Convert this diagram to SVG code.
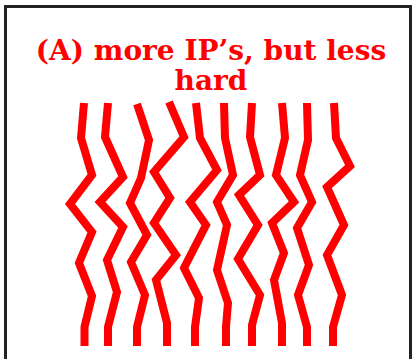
<svg xmlns="http://www.w3.org/2000/svg" width="412" height="359" viewBox="0 0 412 359">
<style>
.t{font-family:"DejaVu Serif","Liberation Serif",serif;font-weight:bold;font-size:28px;fill:#ff0000;text-anchor:middle}
.w{fill:none;stroke:#ff0000;stroke-width:8;stroke-linejoin:miter;stroke-linecap:butt}
</style>
<rect x="0" y="0" width="412" height="359" fill="#ffffff"/>
<path d="M5.5,362 V6.5 H410.5 V362" fill="none" stroke="#222222" stroke-width="3"/>
<g id="title">
<text class="t" x="211" y="60">(A) more IP’s, but less</text>
<text class="t" x="211" y="90">hard</text>
</g>
<g id="connectors">
<polyline id="l1" class="w" points="84,103 81,138 92,175 70,204 92,232 79,263 92,296 84.5,327 84.5,346"/>
<polyline id="l2" class="w" points="108,103 105,137 123,177 100,202 123,227 107,260 117,292 108,327 108,346"/>
<polyline id="l3" class="w" points="137,104 149,140 141,178 130,203 147,235 131,262 145,295 137,327 137,346"/>
<polyline id="l4" class="w" points="169,102 184,137 154,172 170,198 154,223 176,255 156,280 167,323 167,346"/>
<polyline id="l5" class="w" points="196,103 200,138 217,170 190,202 206,225 184,268 199,298 195,327 195,346"/>
<polyline id="l6" class="w" points="224,103 225,138 233,175 217,202 227,225 217,270 228,303 226,327 226,346"/>
<polyline id="l7" class="w" points="252,103 250,137 260,175 239,195 258,225 238,259 260,295 252,325 252,346"/>
<polyline id="l8" class="w" points="282,103 285,138 276,175 294,202 272,223 284,253 274,280 282,323 282,346"/>
<polyline id="l9" class="w" points="307,103 308,140 300,175 312,202 297,228 309,265 298,295 307,327 307,346"/>
<polyline id="l10" class="w" points="334,103 336,138 350,166 327,187 344,225 327,255 342,295 333,327 333,346"/>
</g>
</svg>
